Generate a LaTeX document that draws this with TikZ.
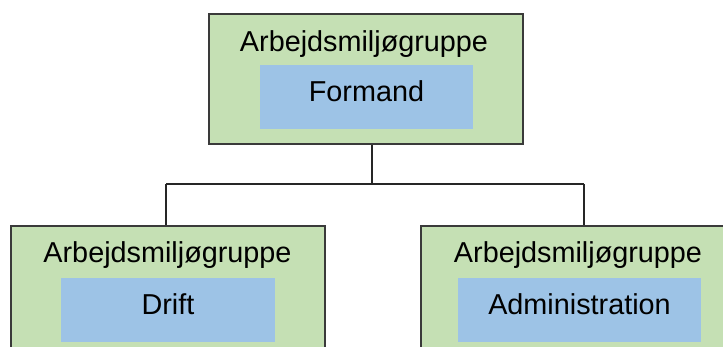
\documentclass[tikz,border=0pt]{standalone}
\usepackage{fontspec}
\setmainfont{Liberation Sans}
\definecolor{grpgreen}{HTML}{C5E0B4}
\definecolor{roleblue}{HTML}{9DC3E6}
\definecolor{edgegray}{HTML}{3A3A3A}
\tikzset{
  grpbox/.style = {rectangle, draw=edgegray, line width=0.6pt, fill=grpgreen, inner sep=0pt, minimum width=157pt, minimum height=65pt},
  grptitle/.style = {anchor=base, inner sep=0pt, font=\fontsize{14.4pt}{17pt}\selectfont},
  rolebox/.style = {rectangle, fill=roleblue, inner sep=0pt, minimum height=32pt, text height=10.5pt, text depth=6pt, font=\fontsize{14.4pt}{17pt}\selectfont},
  link/.style = {draw=black!85, line width=0.6pt},
}
\begin{document}
\begin{tikzpicture}[x=0.5pt, y=-0.5pt]
\useasboundingbox (0,0) rectangle (723,347);
\clip (0,0) rectangle (723,347);
% connectors
\coordinate (split) at (372,184);
\coordinate (lsplit) at (166,184);
\coordinate (rsplit) at (584,184);
% groups
\node [grpbox] (amg) at (366,79) {};
\node [grpbox] (amgdrift) at (168,291) {};
\node [grpbox] (amgadm) at (578,291) {};
\draw [link] (amg.south -| split) -- (split);
\draw [link] (lsplit) -- (rsplit);
\draw [link] (lsplit) -- (lsplit |- amgdrift.north);
\draw [link] (rsplit) -- (rsplit |- amgadm.north);
% titles
\node [grptitle] (amgtitle) at (364,52) {Arbejdsmiljøgruppe};
\node [grptitle] (drifttitle) at (167.5,263) {Arbejdsmiljøgruppe};
\node [grptitle] (admtitle) at (578,263) {Arbejdsmiljøgruppe};
% roles
\node [rolebox, minimum width=106.5pt] (formand) at (366.5,97.5) {Formand};
\node [rolebox, minimum width=107pt] (drift) at (168,310) {Drift};
\node [rolebox, minimum width=121.5pt] (adm) at (579.5,310) {Administration};
\end{tikzpicture}
\end{document}
